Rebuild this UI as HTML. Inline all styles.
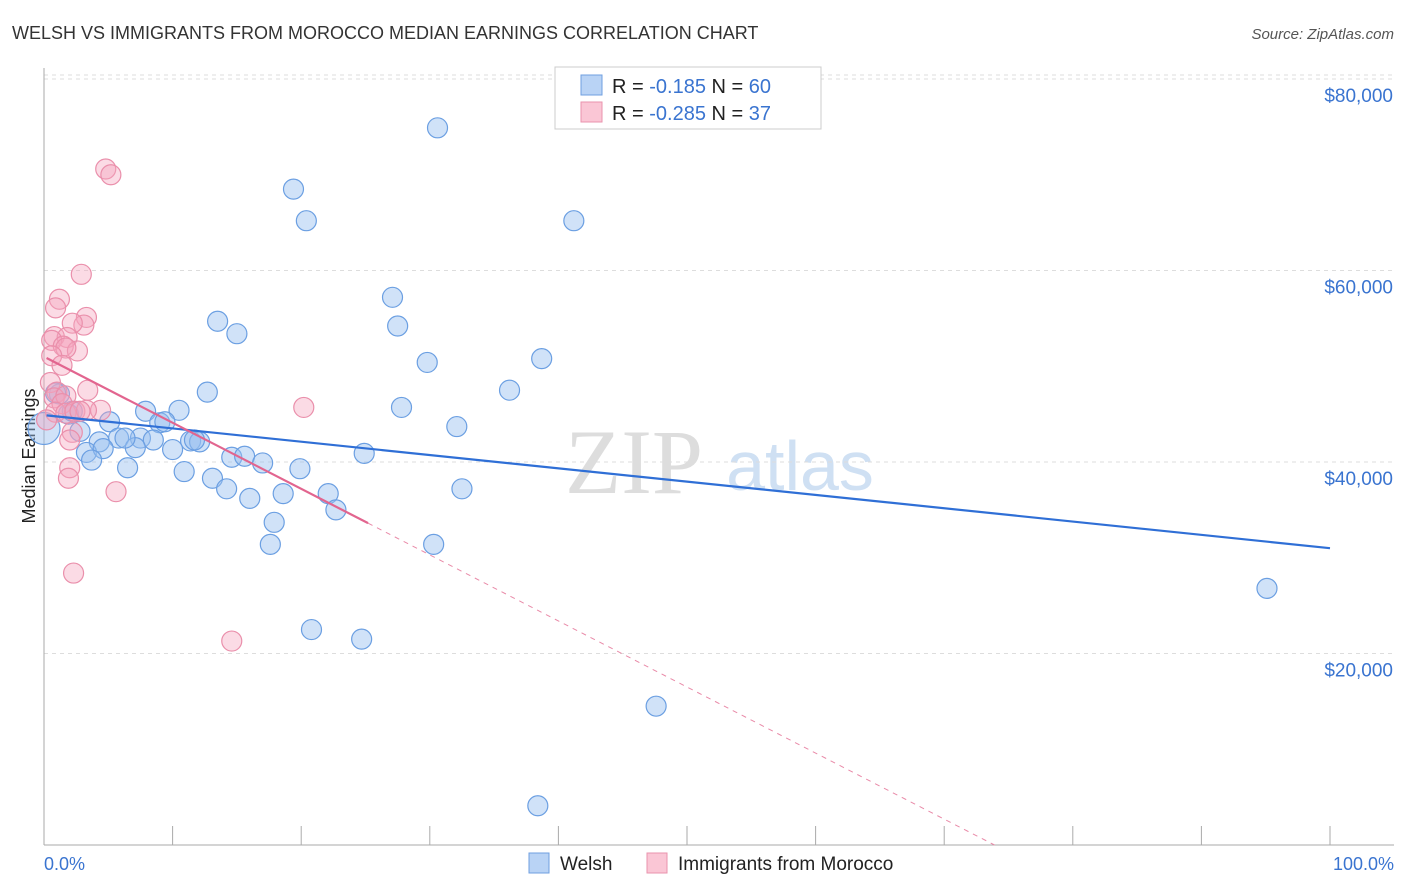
<!DOCTYPE html>
<html><head><meta charset="utf-8"><style>
body{margin:0;background:#fff;font-family:"Liberation Sans",sans-serif;}
svg{display:block}
</style></head><body>
<svg id="c" width="1406" height="892" xmlns="http://www.w3.org/2000/svg">
<text x="12" y="39" font-size="18" fill="#333">WELSH VS IMMIGRANTS FROM MOROCCO MEDIAN EARNINGS CORRELATION CHART</text>
<text x="1394" y="39" font-size="15" fill="#555" font-style="italic" text-anchor="end">Source: ZipAtlas.com</text>
<text x="634" y="493" font-size="92" fill="#ddd" font-family="Liberation Serif" text-anchor="middle">ZIP</text>
<text x="800" y="490" font-size="70" fill="#cfe0f3" text-anchor="middle">atlas</text>
<g id="grid"></g>
<line x1="44" y1="68" x2="44" y2="845" stroke="#aaa"/>
<line x1="44" y1="845" x2="1394" y2="845" stroke="#aaa"/>
<g id="xt"></g>
<text x="35" y="456" font-size="18" fill="#222" text-anchor="middle" transform="rotate(-90 35 456)">Median Earnings</text>
<text x="44" y="870" font-size="18" fill="#3a74d0">0.0%</text>
<text x="1394" y="870" font-size="18" fill="#3a74d0" text-anchor="end">100.0%</text>
<g id="pts"></g>
<g id="lines"></g>
<g>
<rect x="555" y="67" width="266" height="62" fill="#fff" stroke="#ccc"/>
<rect x="581" y="75" width="21" height="20" fill="#b9d3f5" stroke="#6f9fe0"/>
<rect x="581" y="102" width="21" height="20" fill="#fac6d5" stroke="#ea93ad"/>
<text x="612" y="93" font-size="20" fill="#222">R = <tspan fill="#3a74d0"> -0.185</tspan>   N = <tspan fill="#3a74d0">60</tspan></text>
<text x="612" y="120" font-size="20" fill="#222">R = <tspan fill="#3a74d0">-0.285</tspan>   N = <tspan fill="#3a74d0"> 37</tspan></text>
</g>
<g>
<rect x="529" y="853" width="20" height="20" fill="#b9d3f5" stroke="#6f9fe0"/>
<text x="560" y="870" font-size="19" fill="#222">Welsh</text>
<rect x="647" y="853" width="20" height="20" fill="#fac6d5" stroke="#ea93ad"/>
<text x="678" y="870" font-size="19" fill="#222">Immigrants from Morocco</text>
</g>
</svg>
<script>
const yTicks=[20000,40000,60000,80000];
const yTickLabels=["$20,000","$40,000","$60,000","$80,000"];
const xTicks=[0,10,20,30,40,50,60,70,80,90,100];
const welshX=[30.6,19.4,20.4,41.2,27.1,13.5,15.0,27.5,38.7,29.8,36.2,12.7,10.5,7.9,27.8,32.1,5.1,9.0,9.4,7.5,8.5,5.8,4.3,11.4,12.1,11.7,3.3,4.6,7.1,10.0,3.7,14.6,15.6,17.0,24.9,6.5,10.9,19.9,13.1,14.2,32.5,16.0,18.6,22.1,22.7,17.9,17.6,30.3,95.1,20.8,24.7,47.6,38.4,1.2,0.9,1.9,2.2,2.8,6.3,0.0];
const welshY=[74900,68500,65200,65200,57200,54700,53400,54200,50800,50400,47500,47300,45400,45300,45700,43700,44200,44100,44200,42500,42300,42500,42100,42200,42100,42300,41000,41400,41500,41300,40200,40500,40600,39900,40900,39400,39000,39300,38300,37200,37200,36200,36700,36700,35000,33700,31400,31400,26800,22500,21500,14500,4100,47100,47200,45000,45300,43200,42500,43500];
const moroccoX=[4.8,5.2,2.9,1.2,0.9,3.3,3.1,2.2,0.8,1.8,0.6,1.5,2.6,1.7,0.6,1.4,0.5,1.0,3.4,0.8,1.7,1.4,0.9,1.7,2.4,4.4,3.3,2.2,2.8,20.2,2.0,1.9,5.6,2.3,14.6,2.0,0.2];
const moroccoY=[70600,70000,59600,57000,56100,55100,54300,54500,53100,53000,52700,52100,51600,51900,51100,50100,48300,47300,47500,46700,46900,46100,45200,45100,45300,45400,45400,43100,45300,45700,39400,38300,36900,28400,21300,42300,44400];
const welshTrend=[44900,31000];   // value at 0% and 100%
const moroccoTrend=[51000,-690];  // intercept, slope per %
const NS="http://www.w3.org/2000/svg";
const sx=v=>44+v*12.86;
const sy=v=>845-v*191.5/20000;
function mk(t,a,p){const e=document.createElementNS(NS,t);for(const k in a)e.setAttribute(k,a[k]);p.appendChild(e);return e;}
const grid=document.getElementById('grid');
yTicks.forEach((v,i)=>{
 const l=mk('line',{x1:44,x2:1394,y1:sy(v),y2:sy(v),stroke:'#ddd','stroke-dasharray':'4,4'},grid);
 
 
 const t=mk('text',{x:1393,y:sy(v)+23,'font-size':19,fill:'#3a74d0','text-anchor':'end'},grid);
 t.textContent=yTickLabels[i];
 
 
});
const l80=mk('line',{x1:44,x2:1394,y1:sy(80000)-4,y2:sy(80000)-4,stroke:'#ddd','stroke-dasharray':'4,4'},grid);
const xt=document.getElementById('xt');
xTicks.forEach(v=>{
 const l=mk('line',{x1:sx(v),x2:sx(v),y1:826,y2:845,stroke:'#aaa'},xt);
 
 
});
const pts=document.getElementById('pts');
welshX.forEach((x,i)=>{
 const c=mk('circle',{cx:sx(x),cy:sy(welshY[i]),r:i===welshX.length-1?16:10,fill:'rgba(150,190,240,0.45)',stroke:'#6b9fe2','stroke-width':1.2},pts);
 
 
});
moroccoX.forEach((x,i)=>{
 const c=mk('circle',{cx:sx(x),cy:sy(moroccoY[i]),r:10,fill:'rgba(245,165,190,0.4)',stroke:'#ea8fab','stroke-width':1.2},pts);
 
 
});
const ln=document.getElementById('lines');
const b=mk('line',{x1:sx(0.2),y1:sy(welshTrend[0]+(welshTrend[1]-welshTrend[0])*0.002),x2:sx(100),y2:sy(welshTrend[1]),stroke:'#2f6fd6','stroke-width':2.2},ln);


const pm=x=>moroccoTrend[0]+moroccoTrend[1]*x;
const xe=-moroccoTrend[0]/moroccoTrend[1];
const p1=mk('line',{x1:sx(0.2),y1:sy(pm(0.2)),x2:sx(25.2),y2:sy(pm(25.2)),stroke:'#e2658f','stroke-width':2.2},ln);


const p2=mk('line',{x1:sx(25.2),y1:sy(pm(25.2)),x2:sx(xe),y2:sy(0),stroke:'#e98aa8','stroke-width':1,'stroke-dasharray':'5,5'},ln);


</script>
</body></html>
